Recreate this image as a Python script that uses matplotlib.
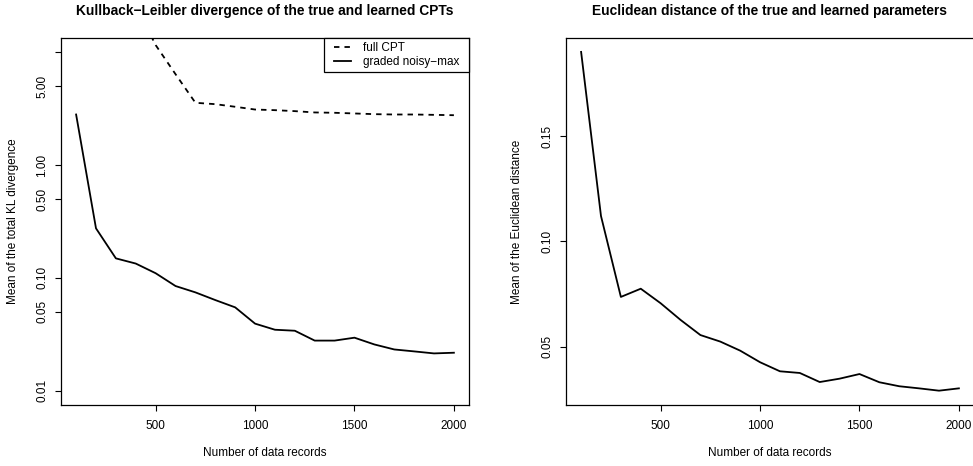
import matplotlib
matplotlib.use("Agg")
import matplotlib.pyplot as plt
from matplotlib.patches import Rectangle
import numpy as np

plt.rcParams['font.family'] = ['Liberation Sans', 'DejaVu Sans']

records = [100, 200, 300, 400, 500, 600, 700, 800, 900, 1000,
           1100, 1200, 1300, 1400, 1500, 1600, 1700, 1800, 1900, 2000]

kl_full_cpt = [200.0, 90.0, 45.0, 26.0, 11.6, 6.4, 3.57, 3.47, 3.29, 3.11,
               3.07, 3.01, 2.93, 2.91, 2.87, 2.83, 2.81, 2.81, 2.79, 2.77]
kl_noisy_max = [2.81, 0.275, 0.149, 0.134, 0.110, 0.0847, 0.0744, 0.0636, 0.0548, 0.0393,
                0.0347, 0.0340, 0.0278, 0.0278, 0.0295, 0.0257, 0.0232, 0.0223, 0.0214, 0.0217]

eucl_noisy_max = [0.1899, 0.112, 0.0736, 0.0775, 0.0706, 0.0627, 0.0555, 0.0524, 0.0481, 0.0426,
                  0.0383, 0.0375, 0.0332, 0.0348, 0.0370, 0.0331, 0.0312, 0.0302, 0.0291, 0.0302]

x_ticks = [500, 1000, 1500, 2000]
kl_ticks = [0.01, 0.05, 0.10, 0.50, 1.00, 5.00, 10.00]
kl_tick_labels = ["0.01", "0.05", "0.10", "0.50", "1.00", "5.00", ""]
eu_ticks = [0.05, 0.10, 0.15]
eu_tick_labels = ["0.05", "0.10", "0.15"]

W, H = 973, 466
fig = plt.figure(figsize=(W / 100, H / 100), dpi=100)

FS = 8.5
TFS = 9.9
LW = 1.3
AX_TOP, AX_BOT = 38, 405
AXH = AX_BOT - AX_TOP


def style(ax):
    for s in ax.spines.values():
        s.set_linewidth(0.9)
        s.set_color('black')
    ax.tick_params(direction='out', length=4.3, width=0.8, labelsize=FS, colors='black')
    ax.tick_params(axis='x', pad=6.5)
    ax.tick_params(axis='y', pad=5.0)
    ax.set_xlim(24, 2076)
    ax.set_xticks(x_ticks)
    ax.set_xticklabels([str(t) for t in x_ticks])
    ax.set_xlabel("Number of data records", fontsize=FS)
    ax.xaxis.set_label_coords(0.5, -(453 - AX_BOT) / AXH)
    ax.xaxis.label.set_va('center')


def title(ax, txt):
    ax.text(0.5, 1 + (AX_TOP - 11.5) / AXH, txt, transform=ax.transAxes,
            ha='center', va='center', fontsize=TFS, fontweight='bold')


# Left panel
ax1 = fig.add_axes([61 / W, (H - AX_BOT) / H, 408 / W, AXH / H])
ax1.plot(records, kl_full_cpt, color='black', lw=LW, linestyle=(0, (3.0, 2.8)), label='full CPT')
ax1.plot(records, kl_noisy_max, color='black', lw=LW, label='graded noisy\u2212max')
ax1.set_yscale('log')
ax1.set_ylim(10 ** -2.127, 10 ** 1.127)
style(ax1)
ax1.set_yticks(kl_ticks)
ax1.set_yticklabels(kl_tick_labels)
ax1.yaxis.set_minor_locator(matplotlib.ticker.NullLocator())
for lab in ax1.get_yticklabels():
    lab.set_rotation(90)
    lab.set_va('center')
ax1.set_ylabel("Mean of the total KL divergence", fontsize=FS)
ax1.yaxis.set_label_coords(-(61 - 19) / 408, 0.5)
title(ax1, "Kullback\u2212Leibler divergence of the true and learned CPTs")

# legend box (R style: square frame flush with the plot's top-right corner)
lx0 = (324 - 61) / 408
ly0 = (AX_BOT - 71.7) / AXH
ax1.add_patch(Rectangle((lx0, ly0), 1 - lx0, 1 - ly0, transform=ax1.transAxes,
                        facecolor='white', edgecolor='black', lw=0.9, zorder=4, clip_on=False))
leg = ax1.legend(loc='center', bbox_to_anchor=(lx0, ly0, 1 - lx0, 1 - ly0),
                 bbox_transform=ax1.transAxes, frameon=False, fontsize=FS,
                 handlelength=1.5, labelspacing=0.2, borderpad=0.0, handletextpad=1.0,
                 borderaxespad=0)
leg.set_zorder(5)

# Right panel
ax2 = fig.add_axes([566 / W, (H - AX_BOT) / H, 408 / W, AXH / H])
ax2.plot(records, eucl_noisy_max, color='black', lw=LW)
ax2.set_ylim(0.0223, 0.1965)
style(ax2)
ax2.set_yticks(eu_ticks)
ax2.set_yticklabels(eu_tick_labels)
for lab in ax2.get_yticklabels():
    lab.set_rotation(90)
    lab.set_va('center')
ax2.set_ylabel("Mean of the Euclidean distance", fontsize=FS)
ax2.yaxis.set_label_coords(-(566 - 523) / 408, 0.5)
title(ax2, "Euclidean distance of the true and learned parameters")

fig.savefig("out.png", dpi=100)
